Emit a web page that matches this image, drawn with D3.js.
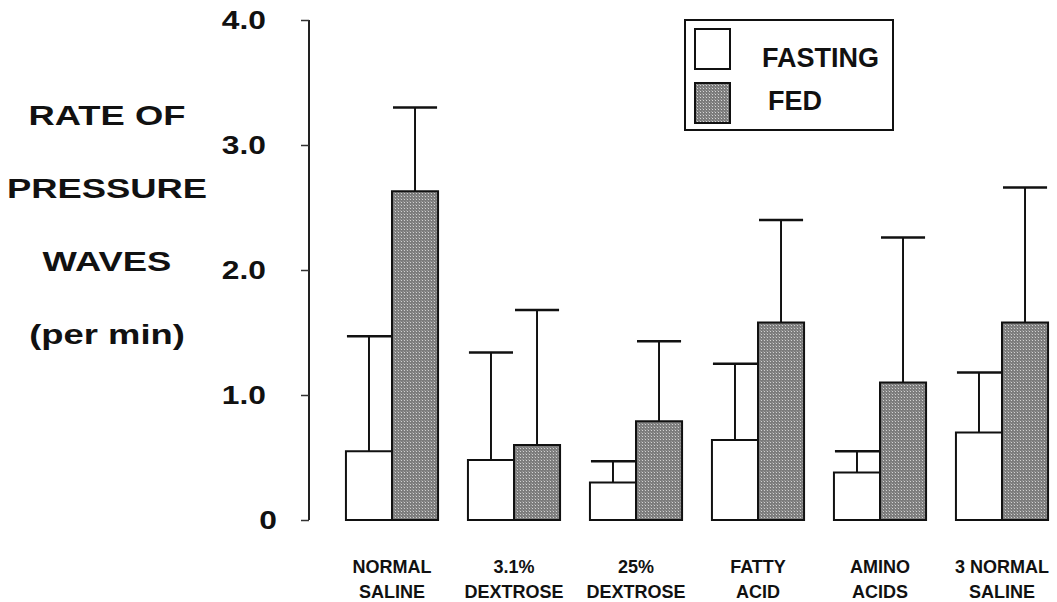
<!DOCTYPE html>
<html>
<head>
<meta charset="utf-8">
<script src="https://cdn.jsdelivr.net/npm/d3@7"></script>
<style>
  body { margin: 0; background: #fff; }
  text { font-family: "Liberation Sans", Arial, sans-serif; font-weight: bold; fill: #111; }
</style>
</head>
<body>
<svg id="chart"></svg>
<script>
// Categories (two-line labels)
var categories = ['NORMAL\nSALINE', '3.1%\nDEXTROSE', '25%\nDEXTROSE', 'FATTY\nACID', 'AMINO\nACIDS', '3 NORMAL\nSALINE'];
var series = ['FASTING', 'FED'];

// Mean rate (per min)
var fasting = [0.55, 0.48, 0.30, 0.64, 0.38, 0.70];
var fed = [2.63, 0.60, 0.79, 1.58, 1.10, 1.58];

// Upper end of the error bar
var fastingUpper = [1.47, 1.34, 0.47, 1.25, 0.55, 1.18];
var fedUpper = [3.30, 1.68, 1.43, 2.40, 2.26, 2.66];

// Y ticks
var yTicks = [0, 1, 2, 3, 4];
var yTickLabels = ['0', '1.0', '2.0', '3.0', '4.0'];

var titleLines = ['RATE OF', 'PRESSURE', 'WAVES', '(per min)'];

var width = 1057, height = 602;

var svg = d3.select('#chart')
  .attr('width', width)
  .attr('height', height);

svg.append('rect').attr('width', width).attr('height', height).attr('fill', '#fff');

// stipple pattern for the FED bars
var defs = svg.append('defs');
var pat = defs.append('pattern')
  .attr('id', 'stipple')
  .attr('width', 3).attr('height', 3)
  .attr('patternUnits', 'userSpaceOnUse');
pat.append('rect').attr('width', 3).attr('height', 3).attr('fill', '#7c7c7c');
pat.append('rect').attr('x', 1).attr('y', 1).attr('width', 1).attr('height', 1).attr('fill', '#d6d6d6');
pat.append('rect').attr('x', 0).attr('y', 0).attr('width', 1).attr('height', 1).attr('fill', '#9a9a9a');

var y = d3.scaleLinear().domain([0, 4]).range([520, 20]);

var x0 = d3.scaleBand()
  .domain(categories)
  .range([331, 1063])
  .paddingInner(0.245)
  .paddingOuter(0.1225);

var x1 = d3.scaleBand()
  .domain(series)
  .range([0, x0.bandwidth()]);

var rows = categories.map(function(c, i) {
  return [
    {cat: c, s: 'FASTING', v: fasting[i], up: fastingUpper[i]},
    {cat: c, s: 'FED', v: fed[i], up: fedUpper[i]}
  ];
});

// y axis
var yAxis = d3.axisLeft(y)
  .tickValues(yTicks)
  .tickSize(8)
  .tickPadding(0)
  .tickFormat(function(d, i) { return yTickLabels[i]; });

var gy = svg.append('g')
  .attr('transform', 'translate(309,0)')
  .call(yAxis);
gy.select('.domain').attr('stroke', '#222').attr('stroke-width', 2).attr('d', 'M0,' + y(4) + 'V' + y(0));
gy.selectAll('.tick line').attr('stroke', '#333').attr('stroke-width', 1.5);
gy.selectAll('.tick text')
  .attr('x', 0)
  .attr('font-size', 25)
  .attr('fill', '#111')
  .attr('font-family', '"Liberation Sans", Arial, sans-serif')
  .attr('font-weight', 'bold')
  .attr('transform', function(d) { return 'translate(' + (d === 0 ? -32 : -43) + ',0) scale(1.27,1)'; });

// y title
svg.append('g').selectAll('text')
  .data(titleLines)
  .enter().append('text')
  .attr('text-anchor', 'middle')
  .attr('font-size', 28)
  .attr('transform', function(d, i) { return 'translate(107,' + (125 + i * 73) + ') scale(1.3,1)'; })
  .text(function(d) { return d; });

// bars
var groups = svg.append('g').selectAll('g')
  .data(rows)
  .enter().append('g')
  .attr('transform', function(d, i) { return 'translate(' + x0(categories[i]) + ',0)'; });

var item = groups.selectAll('g')
  .data(function(d) { return d; })
  .enter().append('g');

// error bar stem and cap
item.append('line')
  .attr('x1', function(d) { return x1(d.s) + x1.bandwidth() / 2; })
  .attr('x2', function(d) { return x1(d.s) + x1.bandwidth() / 2; })
  .attr('y1', function(d) { return y(d.v); })
  .attr('y2', function(d) { return y(d.up); })
  .attr('stroke', '#111').attr('stroke-width', 2);

item.append('line')
  .attr('x1', function(d) { return x1(d.s) + 1; })
  .attr('x2', function(d) { return x1(d.s) + x1.bandwidth() - 1; })
  .attr('y1', function(d) { return y(d.up); })
  .attr('y2', function(d) { return y(d.up); })
  .attr('stroke', '#111').attr('stroke-width', 2.5);

item.append('rect')
  .attr('x', function(d) { return x1(d.s); })
  .attr('width', x1.bandwidth())
  .attr('y', function(d) { return y(d.v); })
  .attr('height', function(d) { return y(0) - y(d.v); })
  .attr('fill', function(d) { return d.s === 'FED' ? 'url(#stipple)' : '#fff'; })
  .attr('stroke', '#111')
  .attr('stroke-width', 2);

// x labels
var xAxis = d3.axisBottom(x0).tickSize(0).tickFormat('');
var gx = svg.append('g')
  .attr('transform', 'translate(0,520)')
  .call(xAxis);
gx.select('.domain').remove();
gx.selectAll('.tick text').remove();
gx.selectAll('.tick').each(function(d) {
  var t = d3.select(this).append('text')
    .attr('text-anchor', 'middle')
    .attr('font-size', 18)
    .attr('fill', '#111')
    .attr('font-family', '"Liberation Sans", Arial, sans-serif')
    .attr('font-weight', 'bold')
    .attr('y', 53);
  d.split('\n').forEach(function(line, i) {
    t.append('tspan').attr('x', 0).attr('dy', i === 0 ? 0 : 25).text(line);
  });
});

// legend
var legend = svg.append('g');
legend.append('rect')
  .attr('x', 685).attr('y', 20).attr('width', 208).attr('height', 110)
  .attr('fill', '#fff').attr('stroke', '#111').attr('stroke-width', 2);

legend.selectAll('.sw')
  .data(series)
  .enter().append('rect')
  .attr('class', 'sw')
  .attr('x', 695)
  .attr('y', function(d, i) { return 29 + i * 54; })
  .attr('width', 35).attr('height', 40)
  .attr('fill', function(d) { return d === 'FED' ? 'url(#stipple)' : '#fff'; })
  .attr('stroke', '#111').attr('stroke-width', 2);

legend.selectAll('.lt')
  .data(series)
  .enter().append('text')
  .attr('class', 'lt')
  .attr('x', function(d, i) { return i === 0 ? 762 : 768; })
  .attr('y', function(d, i) { return 67 + i * 43; })
  .attr('font-size', 27)
  .text(function(d) { return d; });
</script>
</body>
</html>
